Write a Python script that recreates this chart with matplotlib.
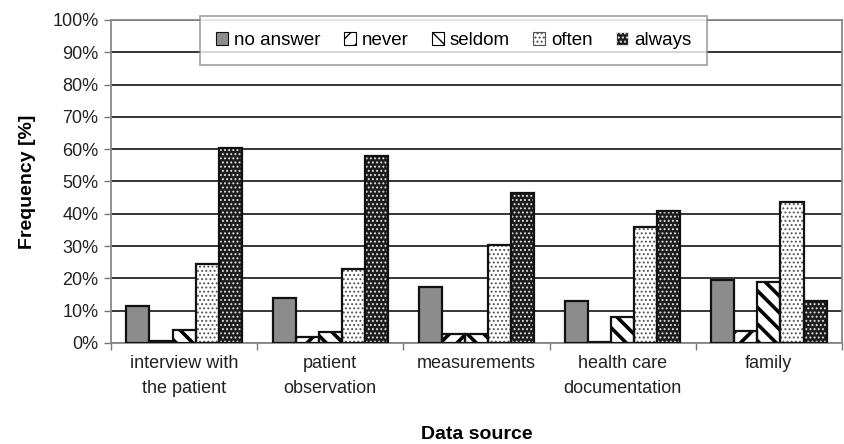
import numpy as np
import matplotlib as mpl
import matplotlib.pyplot as plt
from matplotlib.ticker import FixedLocator, PercentFormatter

plt.rcParams['font.family'] = ['Liberation Sans', 'DejaVu Sans']

sources = ['interview with\nthe patient', 'patient\nobservation', 'measurements',
           'health care\ndocumentation', 'family']
answers = ['no answer', 'never', 'seldom', 'often', 'always']

no_answer = [11.5, 14.0, 17.3, 13.0, 19.5]
never = [0.5, 2.0, 2.7, 0.4, 3.8]
seldom = [4.0, 3.5, 2.7, 8.2, 19.0]
often = [24.5, 22.8, 30.4, 35.8, 43.8]
always = [60.3, 58.0, 46.5, 41.0, 13.0]

series = [no_answer, never, seldom, often, always]

# face colour, hatch, hatch colour, hatch line width per answer
styles = [
    ('#8c8c8c', None, None, 1.0),
    ('white', '//', 'black', 2.6),
    ('white', '\\\\', 'black', 2.6),
    ('white', '....', '#555555', 0.9),
    ('#1c1c1c', '....', '#e0e0e0', 0.9),
]

fig = plt.figure(figsize=(8.45, 4.44), dpi=100)
ax = fig.add_axes([0.1314, 0.2275, 0.865, 0.7275])

x = np.arange(len(sources))
w = 0.158
for k, (vals, (fc, hatch, hc, hlw)) in enumerate(zip(series, styles)):
    pos = x + (k - 2) * w
    with mpl.rc_context({'hatch.linewidth': hlw}):
        if hatch:
            ax.bar(pos, vals, w, color=fc, edgecolor=hc, hatch=hatch, linewidth=0, zorder=2)
        else:
            ax.bar(pos, vals, w, color=fc, linewidth=0, zorder=2)
    ax.bar(pos, vals, w, fill=False, edgecolor='#111111', linewidth=1.6, zorder=3)

ax.set_xlim(-0.5, len(sources) - 0.5)
ax.set_ylim(0, 100)
ax.yaxis.set_major_locator(FixedLocator(np.arange(0, 101, 10)))
ax.yaxis.set_major_formatter(PercentFormatter(decimals=0))
ax.grid(axis='y', color='black', linewidth=1.1, zorder=0)
ax.set_axisbelow(True)

ax.set_xticks(x)
ax.set_xticklabels(sources, fontsize=13, color='#222222', linespacing=1.55)
ax.tick_params(axis='x', which='major', length=0, pad=9)
ax.set_xticks(np.arange(-0.5, len(sources), 1.0), minor=True)
ax.tick_params(axis='x', which='minor', length=5, color='#777777', width=1)
ax.tick_params(axis='y', length=5, color='#777777', width=1, labelsize=13,
               labelcolor='#222222', pad=4)

for s in ax.spines.values():
    s.set_color('#888888')
    s.set_linewidth(1.3)

ax.set_ylabel('Frequency [%]', fontsize=14, fontweight='bold', labelpad=12)
ax.set_xlabel('Data source', fontsize=14, fontweight='bold', labelpad=21)

handles = []
for fc, hatch, hc, hlw in styles:
    with mpl.rc_context({'hatch.linewidth': min(hlw, 1.5)}):
        handles.append(plt.Rectangle((0, 0), 1, 1, facecolor=fc,
                                     edgecolor=hc if hc else '#111111',
                                     hatch=hatch, linewidth=0.8))
leg = ax.legend(
    handles, answers, ncol=5, loc='upper left', mode='expand',
    bbox_to_anchor=(0.1218, 0.85, 0.6936, 0.1624), borderaxespad=0,
    fontsize=13.5, frameon=True, fancybox=False, edgecolor='#888888',
    handlelength=0.65, handleheight=0.65, handletextpad=0.3, columnspacing=1.0,
    borderpad=0.85)
leg.get_frame().set_linewidth(1.2)
leg.set_zorder(5)

fig.savefig('out.png', dpi=100)
